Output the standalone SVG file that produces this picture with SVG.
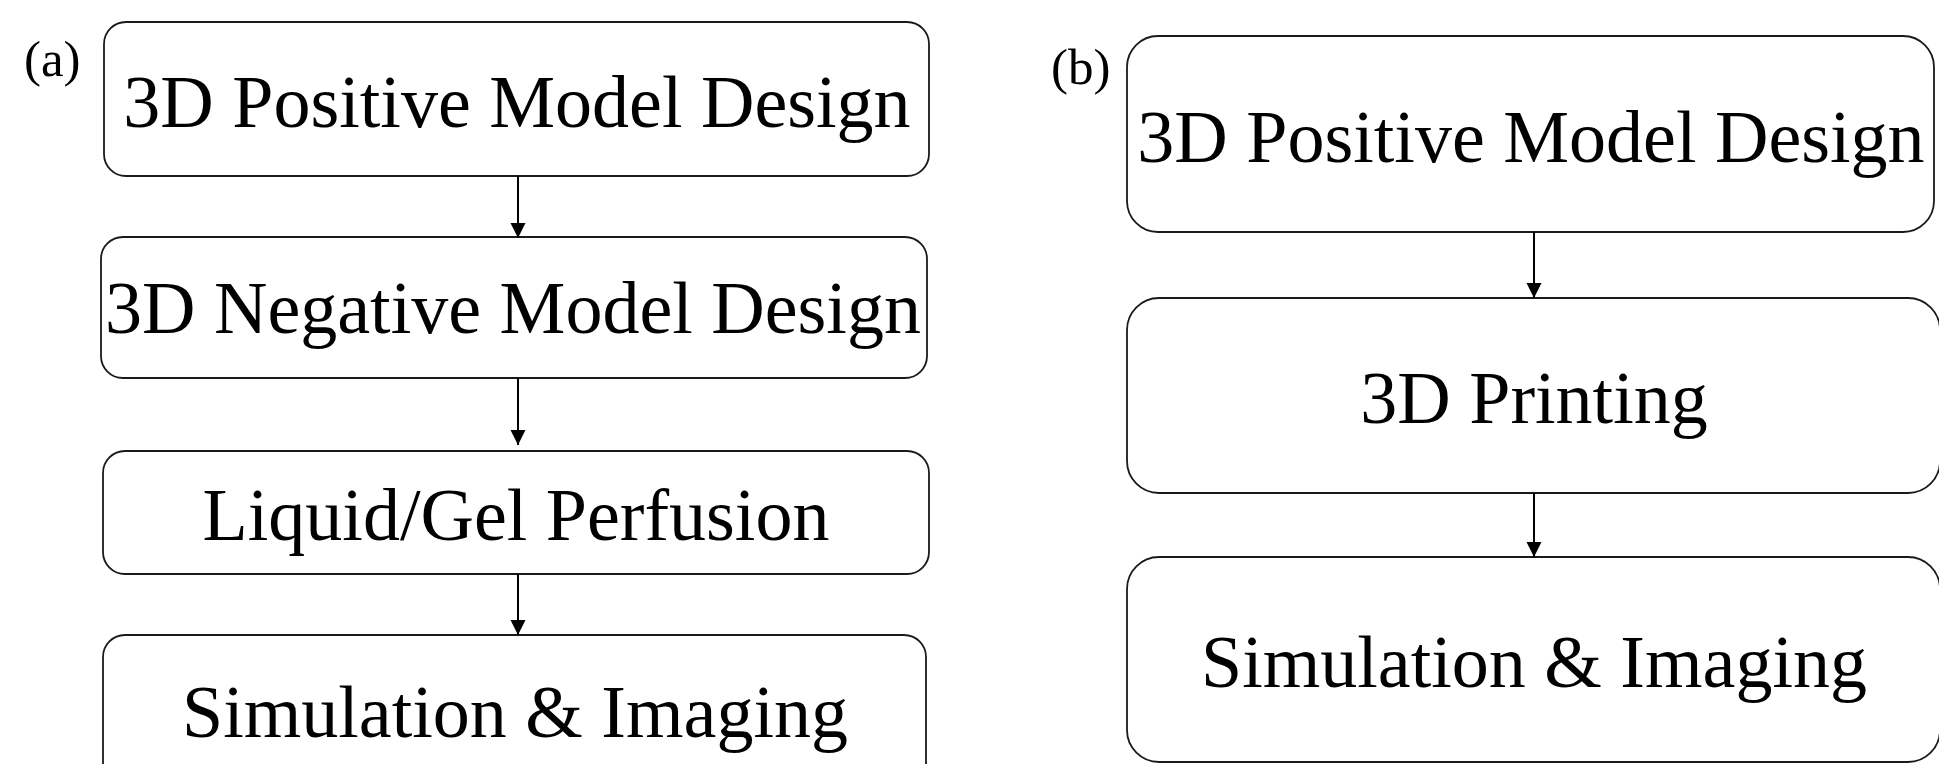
<svg xmlns="http://www.w3.org/2000/svg" width="1939" height="764" viewBox="0 0 1939 764">
<defs>
<style>
.box{fill:#fff;stroke:#1a1a1a;stroke-width:1.8}
.t{font-family:"Liberation Serif","Times New Roman",serif;font-size:74px;fill:#000;text-anchor:middle}
.lbl{font-family:"Liberation Serif","Times New Roman",serif;font-size:51px;fill:#000}
.edge{stroke:#000;stroke-width:2;fill:none;marker-end:url(#ah)}
</style>
<marker id="ah" markerUnits="userSpaceOnUse" markerWidth="16" markerHeight="16" refX="15" refY="7.5" orient="auto">
<path d="M0,0 L15,7.5 L0,15 Z" fill="#000"/>
</marker>
</defs>
<rect width="1939" height="764" fill="#fff"/>
<text class="lbl" x="24" y="76">(a)</text>
<text class="lbl" x="1051" y="84">(b)</text>
<g id="a1"><rect class="box" x="104" y="22" width="825" height="154" rx="22"/><text class="t" x="517" y="127">3D Positive Model Design</text></g>
<g id="a2"><rect class="box" x="101" y="237" width="826" height="141" rx="22"/><text class="t" x="513" y="333">3D Negative Model Design</text></g>
<g id="a3"><rect class="box" x="103" y="451" width="826" height="123" rx="22"/><text class="t" x="516" y="540">Liquid/Gel Perfusion</text></g>
<g id="a4"><rect class="box" x="103" y="635" width="823" height="180" rx="22"/><text class="t" x="515" y="737">Simulation &amp; Imaging</text></g>
<g id="b1"><rect class="box" x="1127" y="36" width="807" height="196" rx="31"/><text class="t" x="1531" y="162">3D Positive Model Design</text></g>
<g id="b2"><rect class="box" x="1127" y="298" width="813" height="195" rx="32"/><text class="t" x="1534" y="423">3D Printing</text></g>
<g id="b3"><rect class="box" x="1127" y="557" width="813" height="205" rx="32"/><text class="t" x="1534" y="687">Simulation &amp; Imaging</text></g>
<g id="connectors">
<line class="edge" x1="518" y1="176" x2="518" y2="238"/>
<line class="edge" x1="518" y1="378" x2="518" y2="445"/>
<line class="edge" x1="518" y1="574" x2="518" y2="635"/>
<line class="edge" x1="1534" y1="232" x2="1534" y2="298"/>
<line class="edge" x1="1534" y1="493" x2="1534" y2="557"/>
</g>
</svg>
